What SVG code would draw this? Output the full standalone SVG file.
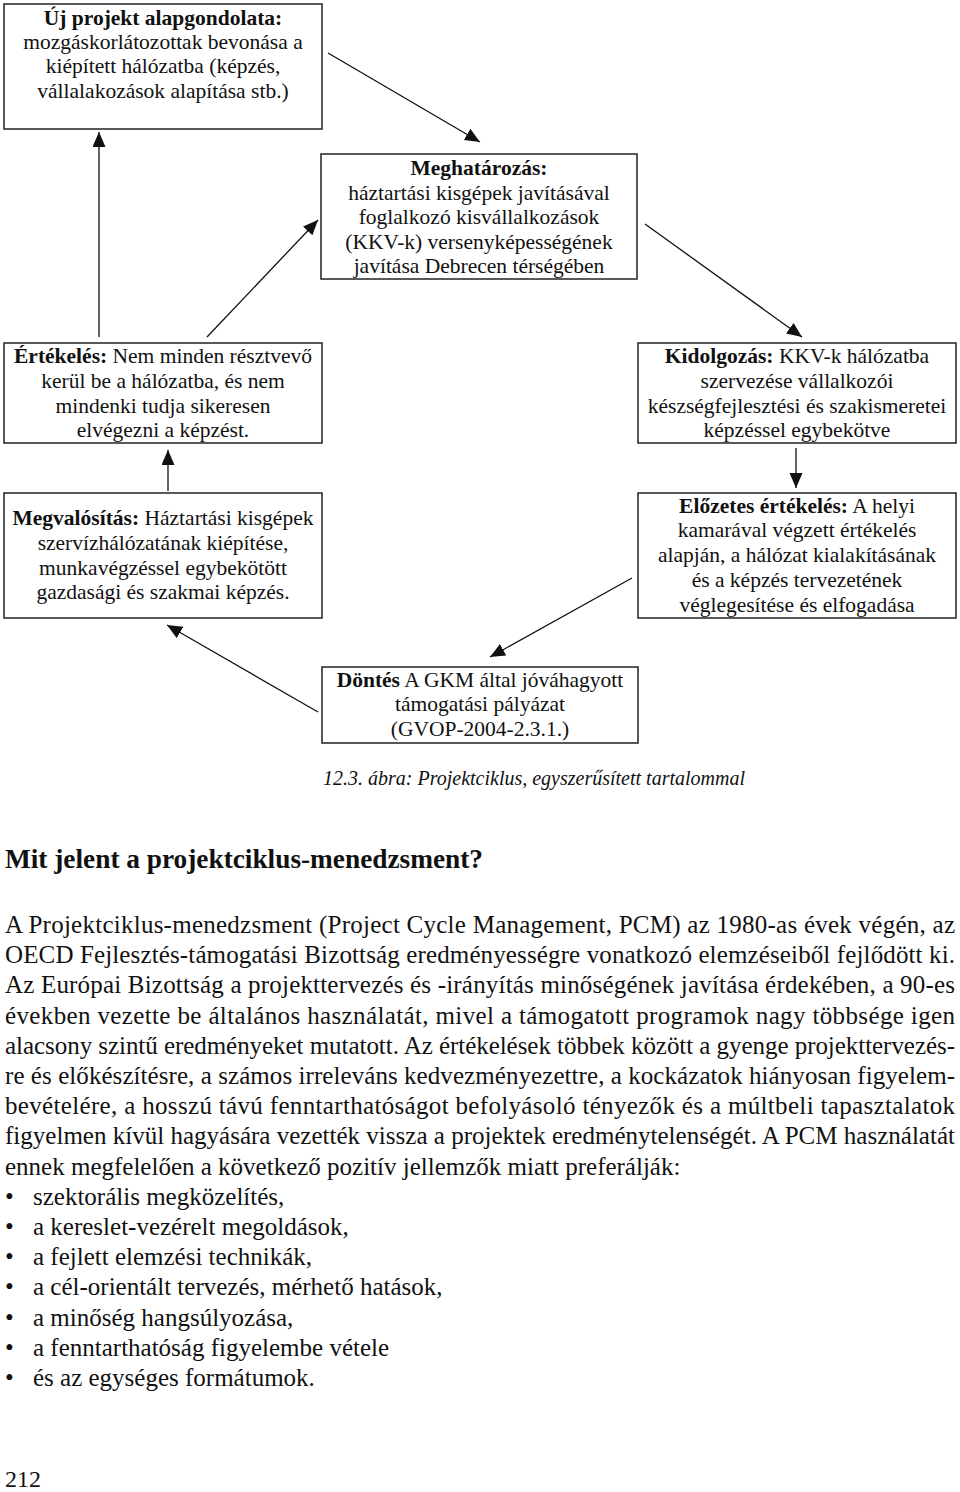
<svg xmlns="http://www.w3.org/2000/svg" width="960" height="1492" viewBox="0 0 960 1492">
<style>
.box{fill:#fff;stroke:#222;stroke-width:1.5}
.t{font-family:"Liberation Serif","Times New Roman",serif;font-size:21.5px;fill:#111;text-anchor:middle}
.b{font-weight:bold}
.con line{stroke:#111;stroke-width:1.3;fill:none}
.body{font-family:"Liberation Serif","Times New Roman",serif;font-size:25px;fill:#111}
</style>
<defs>
<marker id="ah" markerUnits="userSpaceOnUse" markerWidth="16" markerHeight="14" refX="15" refY="6.5" orient="auto">
<path d="M0,0 L15,6.5 L0,13 z" fill="#111"/>
</marker>
</defs>
<rect width="960" height="1492" fill="#fff"/>

<g id="node-uj">
<rect class="box" x="4" y="4" width="318" height="125"/>
<text class="t b" x="163" y="25">Új projekt alapgondolata:</text>
<text class="t" x="163" y="49">mozgáskorlátozottak bevonása a</text>
<text class="t" x="163" y="73">kiépített hálózatba (képzés,</text>
<text class="t" x="163" y="98">vállalakozások alapítása stb.)</text>
</g>

<g id="node-meghat">
<rect class="box" x="321" y="154" width="316" height="125"/>
<text class="t b" x="479" y="175">Meghatározás:</text>
<text class="t" x="479" y="199.5">háztartási kisgépek javításával</text>
<text class="t" x="479" y="224">foglalkozó kisvállalkozások</text>
<text class="t" x="479" y="248.5">(KKV-k) versenyképességének</text>
<text class="t" x="479" y="273">javítása Debrecen térségében</text>
</g>

<g id="node-ertekeles">
<rect class="box" x="4" y="343" width="318" height="100"/>
<text class="t" x="163" y="363"><tspan class="b">Értékelés:</tspan> Nem minden résztvevő</text>
<text class="t" x="163" y="388">kerül be a hálózatba, és nem</text>
<text class="t" x="163" y="413">mindenki tudja sikeresen</text>
<text class="t" x="163" y="437">elvégezni a képzést.</text>
</g>

<g id="node-kidolgozas">
<rect class="box" x="638" y="343" width="318" height="100"/>
<text class="t" x="797" y="363"><tspan class="b">Kidolgozás:</tspan> KKV-k hálózatba</text>
<text class="t" x="797" y="388">szervezése vállalkozói</text>
<text class="t" x="797" y="413">készségfejlesztési és szakismeretei</text>
<text class="t" x="797" y="437">képzéssel egybekötve</text>
</g>

<g id="node-megvalositas">
<rect class="box" x="4" y="493" width="318" height="125"/>
<text class="t" x="163" y="525"><tspan class="b">Megvalósítás:</tspan> Háztartási kisgépek</text>
<text class="t" x="163" y="550">szervízhálózatának kiépítése,</text>
<text class="t" x="163" y="575">munkavégzéssel egybekötött</text>
<text class="t" x="163" y="599">gazdasági és szakmai képzés.</text>
</g>

<g id="node-elozetes">
<rect class="box" x="638" y="493" width="318" height="125"/>
<text class="t" x="797" y="513"><tspan class="b">Előzetes értékelés:</tspan> A helyi</text>
<text class="t" x="797" y="537">kamarával végzett értékelés</text>
<text class="t" x="797" y="562">alapján, a hálózat kialakításának</text>
<text class="t" x="797" y="587">és a képzés tervezetének</text>
<text class="t" x="797" y="612">véglegesítése és elfogadása</text>
</g>

<g id="node-dontes">
<rect class="box" x="322" y="667" width="316" height="76"/>
<text class="t" x="480" y="687"><tspan class="b">Döntés</tspan> A GKM által jóváhagyott</text>
<text class="t" x="480" y="711">támogatási pályázat</text>
<text class="t" x="480" y="736">(GVOP-2004-2.3.1.)</text>
</g>

<g id="connectors" class="con">
<line x1="328" y1="53" x2="480" y2="142" marker-end="url(#ah)"/>
<line x1="207" y1="337" x2="318" y2="220" marker-end="url(#ah)"/>
<line x1="99" y1="337" x2="99" y2="132" marker-end="url(#ah)"/>
<line x1="168" y1="491" x2="168" y2="450" marker-end="url(#ah)"/>
<line x1="645" y1="224" x2="802" y2="337" marker-end="url(#ah)"/>
<line x1="796" y1="448" x2="796" y2="488" marker-end="url(#ah)"/>
<line x1="632" y1="578" x2="490" y2="657" marker-end="url(#ah)"/>
<line x1="318" y1="712" x2="167" y2="625" marker-end="url(#ah)"/>
</g>

<text x="323" y="785" font-family="Liberation Serif, Times New Roman, serif" font-style="italic" font-size="22" fill="#111" textLength="422" lengthAdjust="spacingAndGlyphs">12.3. ábra: Projektciklus, egyszerűsített tartalommal</text>

<text x="5" y="868" font-family="Liberation Serif, Times New Roman, serif" font-weight="bold" font-size="27" fill="#111" textLength="478" lengthAdjust="spacingAndGlyphs">Mit jelent a projektciklus-menedzsment?</text>

<g class="body">
<text x="5" y="933" textLength="950" lengthAdjust="spacing">A Projektciklus-menedzsment (Project Cycle Management, PCM) az 1980-as évek végén, az</text>
<text x="5" y="963.2" textLength="950" lengthAdjust="spacing">OECD Fejlesztés-támogatási Bizottság eredményességre vonatkozó elemzéseiből fejlődött ki.</text>
<text x="5" y="993.4" textLength="950" lengthAdjust="spacing">Az Európai Bizottság a projekttervezés és -irányítás minőségének javítása érdekében, a 90-es</text>
<text x="5" y="1023.6" textLength="950" lengthAdjust="spacing">években vezette be általános használatát, mivel a támogatott programok nagy többsége igen</text>
<text x="5" y="1053.8" textLength="950" lengthAdjust="spacing">alacsony szintű eredményeket mutatott. Az értékelések többek között a gyenge projekttervezés-</text>
<text x="5" y="1084" textLength="950" lengthAdjust="spacing">re és előkészítésre, a számos irreleváns kedvezményezettre, a kockázatok hiányosan figyelem-</text>
<text x="5" y="1114.2" textLength="950" lengthAdjust="spacing">bevételére, a hosszú távú fenntarthatóságot befolyásoló tényezők és a múltbeli tapasztalatok</text>
<text x="5" y="1144.4" textLength="950" lengthAdjust="spacing">figyelmen kívül hagyására vezették vissza a projektek eredménytelenségét. A PCM használatát</text>
<text x="5" y="1174.6">ennek megfelelően a következő pozitív jellemzők miatt preferálják:</text>
<text x="5" y="1204.8">•</text><text x="33" y="1204.8">szektorális megközelítés,</text>
<text x="5" y="1235">•</text><text x="33" y="1235">a kereslet-vezérelt megoldások,</text>
<text x="5" y="1265.2">•</text><text x="33" y="1265.2">a fejlett elemzési technikák,</text>
<text x="5" y="1295.4">•</text><text x="33" y="1295.4">a cél-orientált tervezés, mérhető hatások,</text>
<text x="5" y="1325.6">•</text><text x="33" y="1325.6">a minőség hangsúlyozása,</text>
<text x="5" y="1355.8">•</text><text x="33" y="1355.8">a fenntarthatóság figyelembe vétele</text>
<text x="5" y="1386">•</text><text x="33" y="1386">és az egységes formátumok.</text>
<text x="5" y="1487" font-size="24">212</text>
</g>
</svg>
